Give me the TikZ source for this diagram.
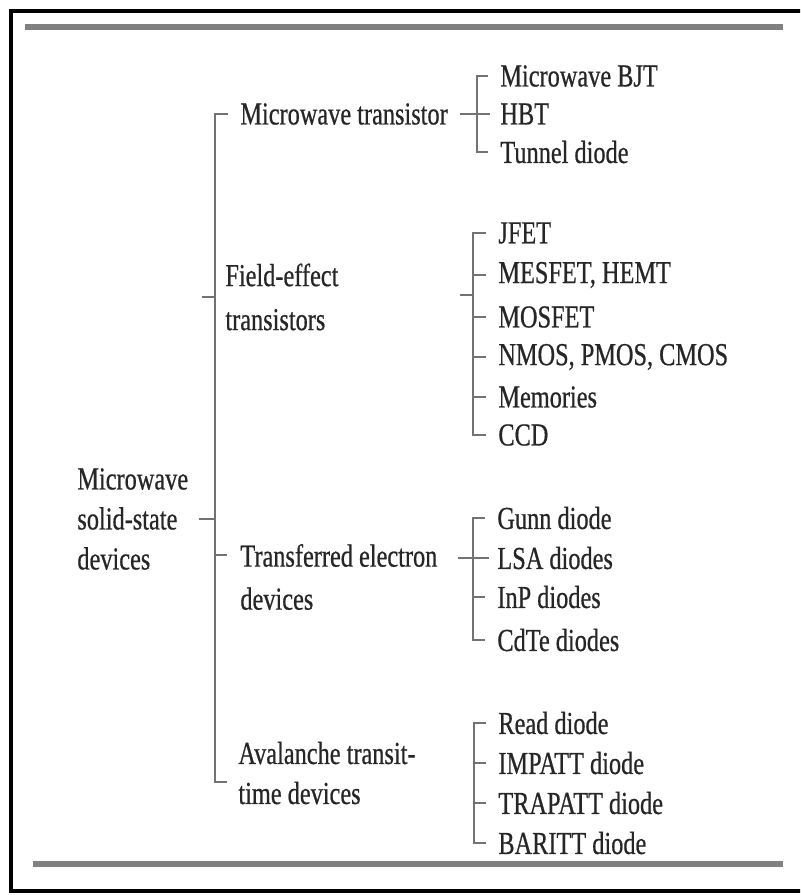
\documentclass[tikz,border=0pt]{standalone}
\usepackage{fontspec}
\setmainfont[FakeStretch=0.76,FakeBold=0.6]{Liberation Serif}
\usetikzlibrary{calc}
\begin{document}
\begin{tikzpicture}[x=0.5pt,y=-0.5pt,
  txt/.style={inner sep=0pt, anchor=west, align=left, text=black!85,
              font=\fontsize{16}{20}\selectfont},
  leaf/.style={txt},
  conn/.style={draw=black!55, line width=1.3pt},
  rulebar/.style={draw=black!50, line width=2.8pt},
  frame/.style={draw=black, line width=2.2pt}]
\useasboundingbox (0,0) rectangle (800,895);
\clip (0,0) rectangle (800,895);
% frame and rules
\draw[frame] (11,11) rectangle (830,891);
\draw[rulebar] (25,27) -- (783,27);
\draw[rulebar] (33,864) -- (783,864);

% root and level 2
\node[txt] (root) at (77,519) {Microwave\\solid-state\\devices};
\node[txt] (mt)  at (240,114) {Microwave transistor};
\node[txt] (fet) at (225,297) {Field-effect\\[2pt]transistors};
\node[txt] (ted) at (240,577) {Transferred electron\\[1.5pt]devices};
\node[txt] (ava) at (238,773) {Avalanche transit-\\time devices};

% main vertical
\coordinate (mx) at (215,0);
\coordinate (mbot) at (215,782);
\draw[conn] ([xshift=-6pt]mt.west) -- (mt.west -| mx) -- (mbot) -- ++(12,0);
\draw[conn] ([xshift=5pt]root.east) -- (root.east -| mx);
\draw[conn] (fet.west -| mx) -- ++(-13,0);
\draw[conn] (ted.west -| mx) ++(0,-22) -- ++(12,0);

% group 1: microwave transistor
\node[leaf] (bjt) at (500,76)  {Microwave BJT};
\node[leaf] (hbt) at (500,114) {HBT};
\node[leaf] (tun) at (500,152) {Tunnel diode};
\coordinate (b1) at (477,0);
\draw[conn] ([xshift=-6pt]bjt.west) -- (bjt.west -| b1) -- (tun.west -| b1) -- ([xshift=-6pt]tun.west);
\draw[conn] ([xshift=6pt]mt.east) -- ([xshift=-5pt]hbt.west);

% group 2: FET
\node[leaf] (jfet) at (498,233) {JFET};
\node[leaf] (mes)  at (498,275) {MESFET, HEMT};
\node[leaf] (mos)  at (498,317) {MOSFET};
\node[leaf] (nmos) at (498,357) {NMOS, PMOS, CMOS};
\node[leaf] (mem)  at (498,397) {Memories};
\node[leaf] (ccd)  at (498,435) {CCD};
\coordinate (b2) at (473,0);
\draw[conn] ([xshift=-6pt]jfet.west) -- (jfet.west -| b2) -- (ccd.west -| b2) -- ([xshift=-6pt]ccd.west);
\draw[conn] (mes.west -| b2) -- ([xshift=-6pt]mes.west);
\draw[conn] (mos.west -| b2) -- ([xshift=-6pt]mos.west);
\draw[conn] (nmos.west -| b2) -- ([xshift=-6pt]nmos.west);
\draw[conn] (mem.west -| b2) -- ([xshift=-6pt]mem.west);
\draw[conn] (b2 |- fet.west) ++(0,-2) -- ++(-13,0);

% group 3: TED
\node[leaf] (gunn) at (497,518) {Gunn diode};
\node[leaf] (lsa)  at (497,558) {LSA diodes};
\node[leaf] (inp)  at (497,597) {InP diodes};
\node[leaf] (cdte) at (497,640) {CdTe diodes};
\coordinate (b3) at (473,0);
\draw[conn] ([xshift=-6pt]gunn.west) -- (gunn.west -| b3) -- (cdte.west -| b3) -- ([xshift=-6pt]cdte.west);
\draw[conn] ([xshift=-7.5pt]lsa.west -| b3) -- ([xshift=-4pt]lsa.west);
\draw[conn] (inp.west -| b3) -- ([xshift=-6pt]inp.west);

% group 4: avalanche
\node[leaf] (read) at (498,723) {Read diode};
\node[leaf] (imp)  at (498,763) {IMPATT diode};
\node[leaf] (trap) at (498,803) {TRAPATT diode};
\node[leaf] (bar)  at (498,843) {BARITT diode};
\coordinate (b4) at (474,0);
\draw[conn] ([xshift=-6pt]read.west) -- (read.west -| b4) -- (bar.west -| b4) -- ([xshift=-6pt]bar.west);
\draw[conn] (imp.west -| b4) -- ([xshift=-6pt]imp.west);
\draw[conn] (trap.west -| b4) -- ([xshift=-6pt]trap.west);
\end{tikzpicture}
\end{document}
